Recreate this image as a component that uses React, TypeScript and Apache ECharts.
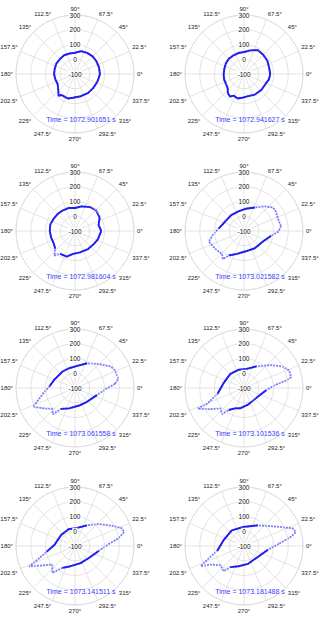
import React, { useEffect, useRef } from 'react';
import * as echarts from 'echarts';

const TIMES = ['1072.901651', '1072.941627', '1072.981604', '1073.021582', '1073.061558', '1073.101536', '1073.141511', '1073.181488'];
const R_MIN = -100;
const R_MAX = 300;
const R_STEP = 100;
const ANGLE_STEP = 22.5;

const THETA_1 = [0, 15, 30, 45, 60, 75, 90, 105, 120, 135, 150, 165, 180, 195, 210, 215, 225, 233, 238, 246, 254, 265, 285, 305, 323, 340, 352];
const R_1 = [69, 69, 69, 69, 65, 60, 44, 44, 47, 44, 45, 42, 42, 38, 36, 42, 60, 85, 68, 70, 73, 62, 56, 56, 56, 60, 64];

const THETA_2 = [0, 15, 30, 45, 60, 75, 90, 105, 120, 135, 150, 165, 180, 195, 210, 220, 230, 238, 245, 255, 265, 278, 298, 318, 336, 348];
const R_2 = [78, 76, 82, 84, 87, 66, 49, 47, 45, 46, 42, 38, 38, 40, 40, 45, 70, 80, 62, 72, 62, 53, 58, 60, 61, 73];

const THETA_3 = [0, 14, 29, 44, 57, 75, 90, 105, 120, 135, 150, 165, 180, 195, 210, 222, 230, 237, 252, 265, 283, 306, 325, 340, 350];
const R_3 = [78, 65, 91, 100, 93, 73, 56, 62, 62, 65, 67, 73, 71, 68, 67, 80, 118, 84, 82, 56, 49, 51, 55, 65, 68];

const THETA_4 = [7.5, 21, 31, 39, 50, 65, 86, 106, 129, 152, 174, 187, 197, 212, 226, 233, 238, 253, 275, 302, 331, 350, 359];
const R_4 = [153, 145, 153, 153, 118, 76, 51, 38, 38, 42, 71, 113, 149, 129, 115, 138, 96, 62, 38, 38, 47, 87, 133];

const THETA_5 = [6, 12, 23.5, 31, 45, 64, 84, 107, 127, 158, 176, 190, 204, 214, 222, 230, 236, 254, 283, 311, 342, 359];
const R_5 = [173, 200, 196, 184, 129, 87, 51, 40, 40, 51, 73, 120, 211, 149, 109, 133, 71, 44, 22, 24, 56, 115];

const THETA_6 = [6, 10, 13, 21, 29, 40, 60, 82, 107, 134, 166, 192, 203, 204, 210, 221, 230, 235, 246, 259, 284, 322, 354];
const R_6 = [118, 189, 227, 229, 200, 142, 69, 31, 29, 33, 42, 82, 169, 244, 187, 111, 131, 82, 51, 40, 16, 7, 51];

const THETA_7 = [3, 10, 16, 21, 29, 43, 60, 83, 111, 142, 177, 192, 200, 204, 211, 219, 230, 240, 258, 288, 319, 348];
const R_7 = [127, 198, 247, 238, 184, 118, 62, 24, 22, 20, 40, 100, 169, 240, 156, 100, 138, 71, 40, 22, 24, 64];

const THETA_8 = [4, 11, 15, 20, 31, 56, 92, 128, 164, 190, 200.5, 205, 209, 219, 231, 237, 255, 283, 323, 351];
const R_8 = [140, 224, 264, 251, 156, 69, 29, 35, 44, 84, 167, 224, 160, 107, 120, 71, 42, 24, 20, 64];

const PANELS: [number[], number[]][] = [
  [THETA_1, R_1], [THETA_2, R_2], [THETA_3, R_3], [THETA_4, R_4],
  [THETA_5, R_5], [THETA_6, R_6], [THETA_7, R_7], [THETA_8, R_8],
];

const COL_X = [75, 244];
const ROW_Y = [74, 231, 388, 546];
const PLOT_R = 59;
const DARK_LIMIT = 100;
const FONT = '"Liberation Sans", Arial, Helvetica, sans-serif';

// angle axis starts at 90 (so radius labels sit on the vertical spoke); shift values accordingly
const toAxisAngle = (t: number) => (((t - 90) % 360) + 360) % 360;

export default function App() {
  const ref = useRef<HTMLDivElement>(null);
  useEffect(() => {
    if (!ref.current) return;
    const chart = echarts.init(ref.current, null, { renderer: 'svg' });
    const gridLine = { color: '#dcdcdc', width: 0.8 };
    const polar: any[] = [];
    const angleAxis: any[] = [];
    const radiusAxis: any[] = [];
    const series: any[] = [];
    const graphic: any[] = [];

    PANELS.forEach(([theta, rad], i) => {
      const cx = COL_X[i % 2];
      const cy = ROW_Y[Math.floor(i / 2)];
      polar.push({ center: [cx, cy], radius: PLOT_R });
      angleAxis.push({
        polarIndex: i,
        type: 'value',
        min: 0,
        max: 360,
        interval: ANGLE_STEP,
        startAngle: 90,
        clockwise: false,
        axisLine: { show: true, lineStyle: gridLine },
        axisTick: { show: false },
        axisLabel: {
          margin: 3,
          align: 'center',
          verticalAlign: 'middle',
          fontSize: 6,
          color: '#222',
          fontFamily: FONT,
          formatter: (v: number) => `${+(((v + 90) % 360).toFixed(1))}°`,
        },
        splitLine: { show: true, lineStyle: gridLine },
      });
      radiusAxis.push({
        polarIndex: i,
        type: 'value',
        min: R_MIN,
        max: R_MAX,
        interval: R_STEP,
        axisLine: { show: false },
        axisTick: { show: false },
        axisLabel: {
          margin: 0,
          align: 'center',
          verticalAlign: 'middle',
          fontSize: 6.5,
          color: '#111',
          fontFamily: FONT,
          backgroundColor: 'rgba(255,255,255,0.85)',
          padding: [0, 1],
        },
        splitLine: { show: true, lineStyle: gridLine },
        z: 5,
      });
      const pts = theta.map((t, k) => [rad[k], toAxisAngle(t)]);
      pts.push(pts[0]);
      const darkPts = pts.map((p) => (p[0] > DARK_LIMIT ? ['-', '-'] : p));
      series.push({
        type: 'line',
        coordinateSystem: 'polar',
        polarIndex: i,
        data: pts,
        showSymbol: false,
        symbol: 'none',
        lineStyle: { color: 'rgba(80,80,255,0.75)', width: 1.8, type: [2, 1] },
        z: 2,
      });
      series.push({
        type: 'line',
        coordinateSystem: 'polar',
        polarIndex: i,
        data: darkPts,
        connectNulls: false,
        showSymbol: false,
        symbol: 'none',
        lineStyle: { color: 'rgba(15,15,240,0.9)', width: 1.9 },
        z: 3,
      });
      graphic.push({
        type: 'text',
        x: cx + 6,
        y: cy + 45,
        z: 10,
        style: {
          text: `Time = ${TIMES[i]} s`,
          fill: '#3c3cff',
          font: `7px ${FONT}`,
          textAlign: 'center',
          textVerticalAlign: 'middle',
        },
      });
    });

    chart.setOption({
      animation: false,
      backgroundColor: '#fff',
      polar,
      angleAxis,
      radiusAxis,
      series,
      graphic,
    });
    return () => chart.dispose();
  }, []);
  return (
    <div
      ref={ref}
      style={{ position: 'fixed', left: 0, top: 0, width: 320, height: 620, background: '#fff' }}
    />
  );
}
